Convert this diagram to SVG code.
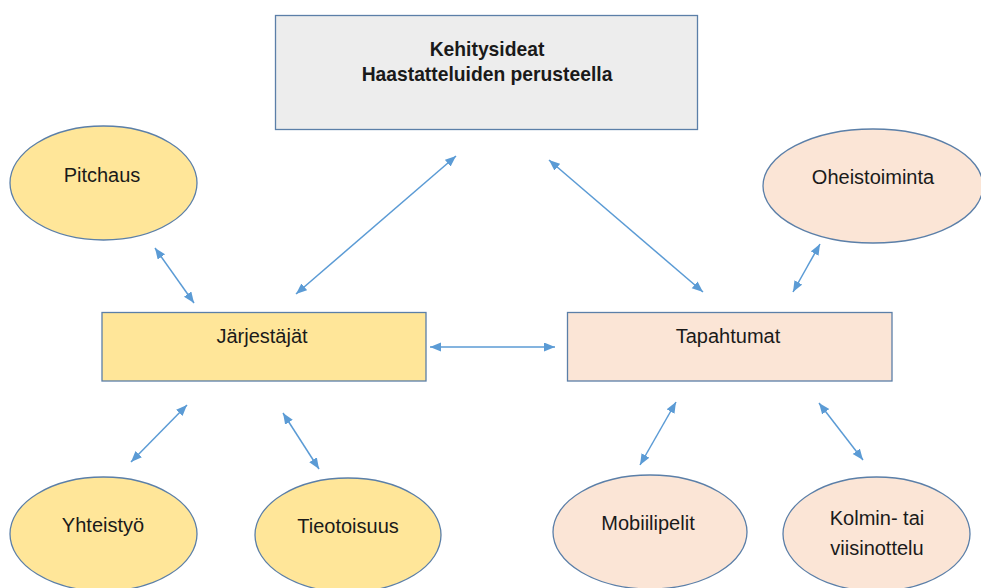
<svg xmlns="http://www.w3.org/2000/svg" width="981" height="588" viewBox="0 0 981 588">
<style>
.box{stroke:#5b7fa8;stroke-width:1.3}
.yel{fill:#ffe699}
.pch{fill:#fbe5d6}
.gry{fill:#ededed}
.t{font-family:"Liberation Sans",Arial,sans-serif;font-size:20px;fill:#1a1a1a;text-anchor:middle}
.b{font-weight:bold;font-size:19.3px}
.c line{stroke:#5b9bd5;stroke-width:1.5;marker-start:url(#ah);marker-end:url(#ah)}
</style>
<defs>
<marker id="ah" markerUnits="userSpaceOnUse" markerWidth="12" markerHeight="10" refX="11" refY="4.5" orient="auto-start-reverse">
<path d="M0,0 L11,4.5 L0,9 z" fill="#5b9bd5"/>
</marker>
</defs>
<rect width="981" height="588" fill="#ffffff"/>
<g id="kehitysideat">
<rect class="box gry" x="275.5" y="15.5" width="422" height="114"/>
<text class="t b" x="487" y="56">Kehitysideat</text>
<text class="t b" x="487" y="81">Haastatteluiden perusteella</text>
</g>
<g id="pitchaus">
<ellipse class="box yel" cx="103.5" cy="183" rx="93.5" ry="57"/>
<text class="t" x="102" y="182">Pitchaus</text>
</g>
<g id="jarjestajat">
<rect class="box yel" x="102" y="312.5" width="324" height="68.5"/>
<text class="t" x="262" y="343">Järjestäjät</text>
</g>
<g id="tapahtumat">
<rect class="box pch" x="567.5" y="312.5" width="324.5" height="68.5"/>
<text class="t" x="728" y="343">Tapahtumat</text>
</g>
<g id="oheistoiminta">
<ellipse class="box pch" cx="873" cy="186" rx="110" ry="57"/>
<text class="t" x="873" y="184">Oheistoiminta</text>
</g>
<g id="yhteistyo">
<ellipse class="box yel" cx="103.5" cy="534" rx="93.5" ry="57"/>
<text class="t" x="103" y="532">Yhteistyö</text>
</g>
<g id="tieotoisuus">
<ellipse class="box yel" cx="348" cy="535" rx="93" ry="57"/>
<text class="t" x="348" y="533">Tieotoisuus</text>
</g>
<g id="mobiilipelit">
<ellipse class="box pch" cx="650" cy="532" rx="97" ry="57"/>
<text class="t" x="648" y="530">Mobiilipelit</text>
</g>
<g id="kolmin">
<ellipse class="box pch" cx="876.5" cy="534" rx="93.5" ry="57"/>
<text class="t" x="877" y="525">Kolmin- tai</text>
<text class="t" x="877" y="555">viisinottelu</text>
</g>
<g id="connectors" class="c">
<line x1="456" y1="156" x2="296" y2="294"/>
<line x1="549" y1="160" x2="703" y2="292"/>
<line x1="155" y1="248" x2="194" y2="303"/>
<line x1="430" y1="347" x2="555" y2="347"/>
<line x1="820" y1="244" x2="793" y2="292"/>
<line x1="187" y1="405" x2="131" y2="462"/>
<line x1="283" y1="413" x2="319" y2="469"/>
<line x1="676" y1="402" x2="640" y2="465"/>
<line x1="819" y1="403" x2="863" y2="460"/>
</g>
</svg>
